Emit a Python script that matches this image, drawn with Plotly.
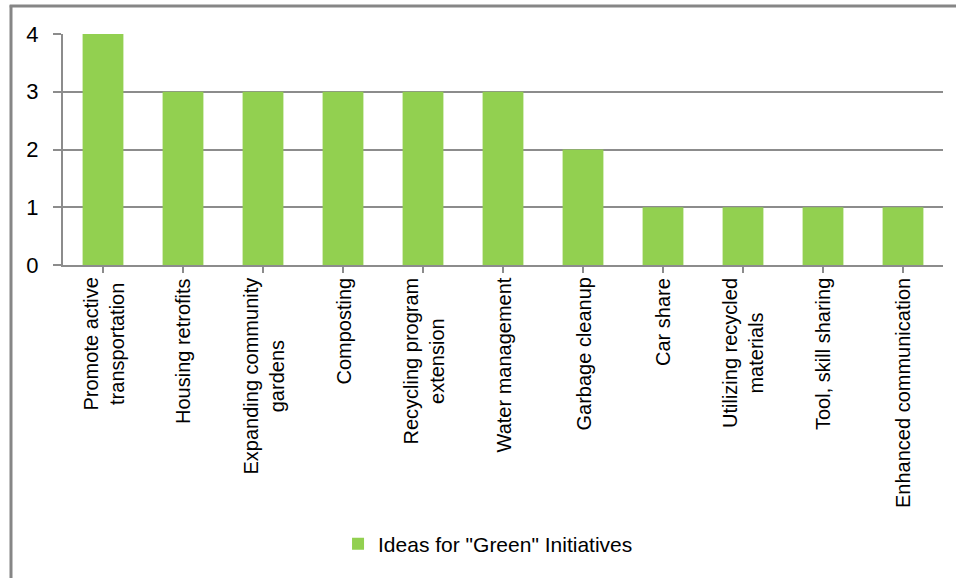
import plotly.graph_objects as go

# Survey tallies of suggested "green" initiatives
categories = [
    "Promote active<br>transportation",
    "Housing retrofits",
    "Expanding community<br>gardens",
    "Composting",
    "Recycling program<br>extension",
    "Water management",
    "Garbage cleanup",
    "Car share",
    "Utilizing recycled<br>materials",
    "Tool, skill sharing",
    "Enhanced communication",
]
counts = [4, 3, 3, 3, 3, 3, 2, 1, 1, 1, 1]
series_name = 'Ideas for "Green" Initiatives'
y_ticks = [0, 1, 2, 3, 4]

BAR_GREEN = "#92D050"
GRID_GRAY = "#8C8C8C"
FRAME_GRAY = "#868686"
FONT = "Liberation Sans"

fig = go.Figure()
fig.add_trace(go.Bar(
    x=list(range(len(categories))),
    y=counts,
    name=series_name,
    marker=dict(color=BAR_GREEN, line=dict(width=0)),
    showlegend=True,
))

# Rotated category labels, centred line by line, hung below the axis
for i, label in enumerate(categories):
    fig.add_annotation(
        x=i, xref="x", y=0, yref="paper",
        text=label, textangle=-90, align="center",
        xanchor="center", yanchor="top", yshift=-11,
        showarrow=False,
        font=dict(family=FONT, size=20, color="black"),
    )

fig.update_layout(
    width=956, height=578,
    margin=dict(l=63, r=13, t=34, b=313),
    paper_bgcolor="white", plot_bgcolor="white",
    bargap=0.49,
    font=dict(family=FONT, color="black"),
    showlegend=True,
    legend=dict(
        orientation="h", x=0.483, xanchor="center", y=-1.208, yanchor="middle",
        font=dict(family=FONT, size=21, color="black"),
        itemwidth=30, tracegroupgap=0,
    ),
    xaxis=dict(
        range=[-0.5, len(categories) - 0.5],
        tickmode="array", tickvals=list(range(len(categories))),
        showticklabels=False, tickson="boundaries",
        ticks="outside", ticklen=6, tickwidth=2, tickcolor=GRID_GRAY,
        showline=True, linecolor=GRID_GRAY, linewidth=2,
        showgrid=False, zeroline=False, fixedrange=True,
    ),
    yaxis=dict(
        range=[0, 4], tickmode="array", tickvals=y_ticks,
        ticktext=[str(v) for v in y_ticks],
        ticks="outside", ticklen=8, tickwidth=2, tickcolor=GRID_GRAY,
        ticklabelstandoff=10,
        tickfont=dict(family=FONT, size=22, color="black"),
        showline=True, linecolor=GRID_GRAY, linewidth=2,
        showgrid=True, gridcolor=GRID_GRAY, gridwidth=2,
        zeroline=False, fixedrange=True,
    ),
    shapes=[
        # chart frame: left and top edges
        dict(type="line", xref="paper", yref="paper",
             x0=-0.0591, x1=-0.0591, y0=1.125, y1=-1.36,
             line=dict(color=FRAME_GRAY, width=3)),
        dict(type="line", xref="paper", yref="paper",
             x0=-0.0606, x1=1.02, y0=1.121, y1=1.121,
             line=dict(color=FRAME_GRAY, width=3)),
    ],
)

fig.write_html("out.html")
